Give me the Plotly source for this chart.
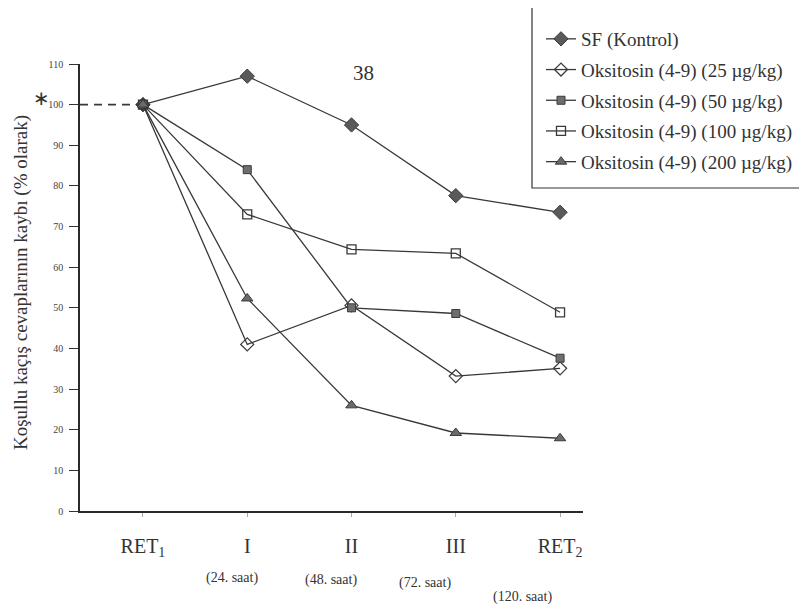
import plotly.graph_objects as go

# ---- data ----
categories = ["RET<sub>1</sub>", "I", "II", "III", "RET<sub>2</sub>"]
hours = ["", "(24. saat)", "(48. saat)", "(72. saat)", "(120. saat)"]
x_pos = [0, 1, 2, 3, 4]

sf_kontrol = [100, 107, 95, 77.6, 73.5]
oks_25 = [100, 41, 50.6, 33.2, 35.1]
oks_50 = [100, 84, 50, 48.6, 37.6]
oks_100 = [100, 73, 64.4, 63.4, 48.9]
oks_200 = [100, 52.3, 26, 19.2, 17.9]

baseline_value = 100
y_ticks = list(range(0, 111, 10))

series_names = [
    "SF (Kontrol)",
    "Oksitosin (4-9) (25 µg/kg)",
    "Oksitosin (4-9) (50 µg/kg)",
    "Oksitosin (4-9) (100 µg/kg)",
    "Oksitosin (4-9) (200 µg/kg)",
]
series_values = [sf_kontrol, oks_25, oks_50, oks_100, oks_200]

# ---- layout helpers (page pixel -> paper); page body has an 8px margin ----
BODY = 8
PLOT_L, PLOT_R, PLOT_T, PLOT_B = 80, 583, 64, 511   # plot area in page pixels
W, H = 807, 608
L = PLOT_L - BODY
T = PLOT_T - BODY
R = W - (PLOT_R - BODY)
B = H - (PLOT_B - BODY)
PW, PH = PLOT_R - PLOT_L, PLOT_B - PLOT_T


def px_x(p):
    return (p - PLOT_L) / PW


def px_y(p):
    return (PLOT_B - p) / PH


X_MIN, X_MAX = -0.604, 4.22
LINE_COLOR = "#383838"
SERIF = "Liberation Serif"
marker_styles = [
    dict(symbol="diamond", size=11, color="#5a5a5a", line=dict(color="#3a3a3a", width=1)),
    dict(symbol="diamond-open", size=10, color="#3a3a3a", line=dict(width=1.3)),
    dict(symbol="square", size=8, color="#6e6e6e", line=dict(color="#3a3a3a", width=1)),
    dict(symbol="square-open", size=9, color="#3a3a3a", line=dict(width=1.3)),
    dict(symbol="triangle-up", size=10, color="#6a6a6a", line=dict(color="#3a3a3a", width=1)),
]

fig = go.Figure()

# dashed reference line from the axis to RET1 at 100 %
fig.add_trace(go.Scatter(
    x=[X_MIN, x_pos[0]], y=[baseline_value, baseline_value],
    mode="lines", line=dict(color=LINE_COLOR, width=1.6, dash="8px,6px"),
    showlegend=False, hoverinfo="skip", cliponaxis=False,
))

for i, (name, vals) in enumerate(zip(series_names, series_values)):
    fig.add_trace(go.Scatter(
        x=x_pos, y=vals, name=name, mode="lines+markers",
        line=dict(color=LINE_COLOR, width=1.3),
        marker=marker_styles[i],
        legendgroup=f"g{i}", cliponaxis=False,
    ))

hour_shift_x = [0, -15, -21, -31, -38]
hour_y_px = [0, 578, 580, 583, 597]
annotations = []
for xp, h, sx, yp in zip(x_pos, hours, hour_shift_x, hour_y_px):
    if h:
        annotations.append(dict(
            x=xp, xref="x", y=px_y(yp), yref="paper",
            xanchor="center", yanchor="middle", xshift=sx,
            text=h, showarrow=False,
            font=dict(family=SERIF, size=14, color="#333"),
        ))

annotations += [
    dict(x=px_x(21), xref="paper", y=px_y(283), yref="paper",
         text="Koşullu kaçış cevaplarının kaybı (% olarak)", textangle=-90,
         showarrow=False, font=dict(family=SERIF, size=19, color="#333"),
         xanchor="center", yanchor="middle"),
    dict(x=px_x(41), xref="paper", y=px_y(98), yref="paper",
         xanchor="center", yanchor="middle",
         text="∗", showarrow=False,
         font=dict(family="DejaVu Sans", size=20, color="#333")),
    dict(x=px_x(363), xref="paper", y=px_y(73), yref="paper",
         text="38", showarrow=False, xanchor="center", yanchor="middle",
         font=dict(family=SERIF, size=21, color="#333")),
]

shapes = [
    dict(type="rect", xref="paper", yref="paper",
         x0=px_x(532), x1=px_x(840), y0=px_y(188), y1=px_y(5),
         line=dict(color="#333", width=1.2), fillcolor="rgba(0,0,0,0)", layer="below"),
]

fig.update_layout(
    width=W, height=H,
    margin=dict(l=L, r=R, t=T, b=B, autoexpand=False),
    paper_bgcolor="white", plot_bgcolor="white",
    font=dict(family=SERIF, color="#333"),
    xaxis=dict(
        range=[X_MIN, X_MAX], tickvals=x_pos, ticktext=categories,
        showgrid=False, zeroline=False, showline=True,
        linecolor="#2a2a2a", linewidth=1.5,
        ticks="outside", ticklen=4, tickcolor="#aaa",
        tickfont=dict(family=SERIF, size=20, color="#333"),
        ticklabelstandoff=12,
    ),
    yaxis=dict(
        range=[0, 110], tickvals=y_ticks,
        showgrid=False, zeroline=False, showline=True,
        linecolor="#2a2a2a", linewidth=1.5,
        ticks="outside", ticklen=9, tickcolor="#333", tickwidth=1.3,
        tickfont=dict(family=SERIF, size=10, color="#444"),
        ticklabelstandoff=4,
    ),
    legend=dict(
        x=px_x(541), xanchor="left",
        y=px_y(20), yanchor="top",
        borderwidth=0, bgcolor="rgba(0,0,0,0)",
        font=dict(family=SERIF, size=19, color="#333"),
        tracegroupgap=3, itemwidth=30,
    ),
    annotations=annotations,
    shapes=shapes,
)

fig.write_html("out.html")
